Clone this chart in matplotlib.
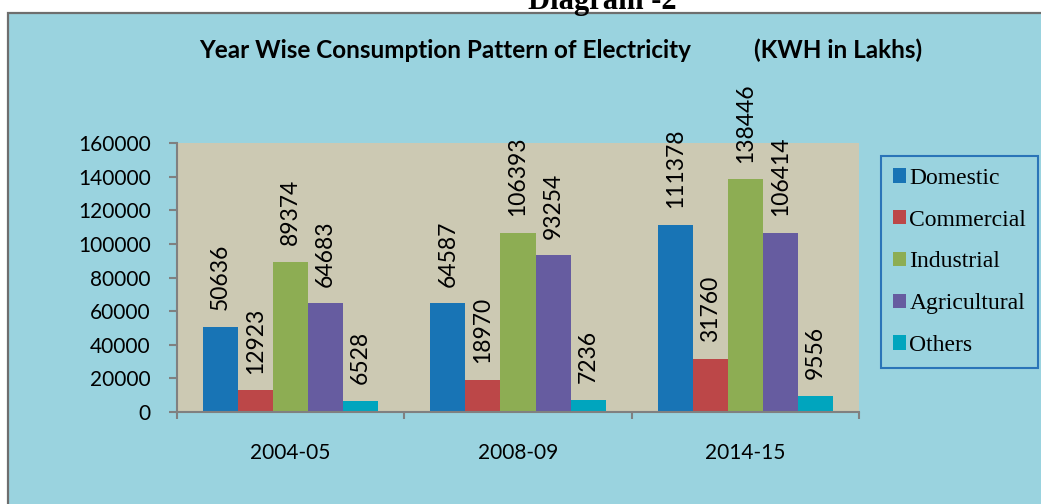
import matplotlib.pyplot as plt
import numpy as np
from matplotlib.patches import Rectangle

years = ['2004-05', '2008-09', '2014-15']
series = ['Domestic', 'Commercial', 'Industrial', 'Agricultural', 'Others']
domestic = [50636, 64587, 111378]
commercial = [12923, 18970, 31760]
industrial = [89374, 106393, 138446]
agricultural = [64683, 93254, 106414]
others = [6528, 7236, 9556]
colors = ['#1874B5', '#BC4748', '#8DAD53', '#665CA0', '#00A5BE']

values = [domestic, commercial, industrial, agricultural, others]

W, H = 1041, 504
fig = plt.figure(figsize=(W / 100, H / 100), dpi=100)
fig.patch.set_facecolor('white')

# blue chart box with grey border, running off the right/bottom edge
fig.patches.append(Rectangle((8 / W, -0.05), 1.1, 1 - 13 / H + 0.05,
                             transform=fig.transFigure, facecolor='#9AD3DF',
                             edgecolor='#6E6E6E', lw=1.6, zorder=-5))

fig.text(602 / W, 1 - 9 / H, 'Diagram -2', ha='center', va='baseline',
         family='Liberation Serif', weight='bold', fontsize=22)
fig.text(445 / W, 1 - 50 / H, 'Year Wise Consumption Pattern of Electricity',
         ha='center', va='center', family='Lato', weight='bold', fontsize=17.5)
fig.text(838 / W, 1 - 50 / H, '(KWH in Lakhs)',
         ha='center', va='center', family='Lato', weight='bold', fontsize=17.5)

ax = fig.add_axes([177 / W, 1 - 412 / H, 682 / W, 269 / H])
ax.set_facecolor('#CCC9B3')

x = np.arange(len(years))
w = 0.154
for j, (name, vals, c) in enumerate(zip(series, values, colors)):
    ax.bar(x + (j - 2) * w, vals, w, color=c, label=name, zorder=2)
    for xi, v in zip(x + (j - 2) * w, vals):
        ax.annotate(str(v), (xi, v), xytext=(0, 12), textcoords='offset points',
                    rotation=90, ha='center', va='bottom', family='Lato',
                    fontsize=16.5, annotation_clip=False)

ax.set_xlim(-0.5, 2.5)
ax.set_ylim(0, 160000)
ax.set_yticks(np.arange(0, 160001, 20000))
ax.set_xticks(x)
ax.set_xticklabels(years)
ax.set_xticks([-0.5, 0.5, 1.5, 2.5], minor=True)
ax.tick_params(axis='x', which='major', length=0, pad=22, labelsize=15)
ax.tick_params(axis='x', which='minor', length=5, width=1.5, color='#808080')
ax.tick_params(axis='y', length=6, width=1.5, color='#808080', pad=13, labelsize=15)
for lab in ax.get_xticklabels() + ax.get_yticklabels():
    lab.set_family('Lato')
for s in ['top', 'right']:
    ax.spines[s].set_visible(False)
for s in ['left', 'bottom']:
    ax.spines[s].set_color('#808080')
    ax.spines[s].set_linewidth(1.5)

leg = fig.legend(loc='upper left', bbox_to_anchor=(881 / W, 1 - 156 / H),
                 prop={'family': 'Liberation Serif', 'size': 17},
                 handlelength=0.55, handleheight=0.55, handletextpad=0.15,
                 labelspacing=0.88, borderpad=0.5, borderaxespad=0,
                 fancybox=False, framealpha=1, facecolor='#9AD3DF',
                 edgecolor='#2A74B8')
leg.get_frame().set_linewidth(1.5)

plt.savefig('out.png', dpi=100)
